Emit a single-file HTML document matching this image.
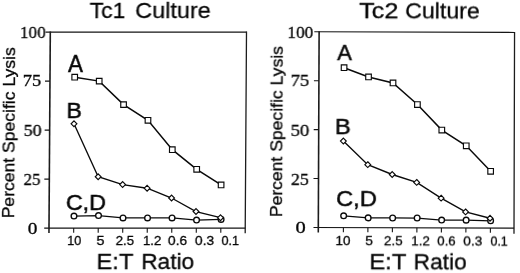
<!DOCTYPE html>
<html><head><meta charset="utf-8"><title>Figure</title>
<style>
html,body{margin:0;padding:0;background:#fff;}
body{width:520px;height:273px;overflow:hidden;}
svg{display:block;}
text{fill:#050505;}
.sans{font-family:"Liberation Sans",sans-serif;}
.serif{font-family:"Liberation Serif",serif;}
</style></head><body>
<svg width="520" height="273" viewBox="0 0 520 273">
<rect width="520" height="273" fill="#fff"/>
<g transform="matrix(1,0.00000,-0.00663,1,1.512,-0.000)">
<path d="M44.2,228.1H245.4M44.2,32.1H245.4" stroke="#151515" stroke-width="1.1" fill="none"/>
<path d="M49.0,31.6V233.1" stroke="#1c1c1c" stroke-width="1.6" fill="none"/>
<path d="M44.0,179.10H49.0M44.0,130.10H49.0M44.0,81.10H49.0M73.70,228.1V232.7M98.22,228.1V232.7M122.74,228.1V232.7M147.26,228.1V232.7M171.78,228.1V232.7M196.30,228.1V232.7M220.82,228.1V232.7" stroke="#151515" stroke-width="1.1" fill="none"/>
<polyline points="73.70,77.18 98.22,81.10 122.74,104.62 147.26,120.30 171.78,149.70 196.30,169.30 220.82,184.98" stroke="#0a0a0a" stroke-width="1.5" fill="none"/>
<rect x="70.90" y="74.38" width="5.6" height="5.6" fill="#fff" stroke="#0a0a0a" stroke-width="1.15"/>
<rect x="95.42" y="78.30" width="5.6" height="5.6" fill="#fff" stroke="#0a0a0a" stroke-width="1.15"/>
<rect x="119.94" y="101.82" width="5.6" height="5.6" fill="#fff" stroke="#0a0a0a" stroke-width="1.15"/>
<rect x="144.46" y="117.50" width="5.6" height="5.6" fill="#fff" stroke="#0a0a0a" stroke-width="1.15"/>
<rect x="168.98" y="146.90" width="5.6" height="5.6" fill="#fff" stroke="#0a0a0a" stroke-width="1.15"/>
<rect x="193.50" y="166.50" width="5.6" height="5.6" fill="#fff" stroke="#0a0a0a" stroke-width="1.15"/>
<rect x="218.02" y="182.18" width="5.6" height="5.6" fill="#fff" stroke="#0a0a0a" stroke-width="1.15"/>
<polyline points="73.90,216.05 98.42,215.56 122.94,217.91 147.46,217.91 171.98,217.91 196.50,220.06 221.02,219.38" stroke="#0a0a0a" stroke-width="1.3" fill="none"/>
<circle cx="73.90" cy="216.05" r="2.85" fill="#fff" stroke="#0a0a0a" stroke-width="1.35"/>
<circle cx="98.42" cy="215.56" r="2.85" fill="#fff" stroke="#0a0a0a" stroke-width="1.35"/>
<circle cx="122.94" cy="217.91" r="2.85" fill="#fff" stroke="#0a0a0a" stroke-width="1.35"/>
<circle cx="147.46" cy="217.91" r="2.85" fill="#fff" stroke="#0a0a0a" stroke-width="1.35"/>
<circle cx="171.98" cy="217.91" r="2.85" fill="#fff" stroke="#0a0a0a" stroke-width="1.35"/>
<circle cx="196.50" cy="220.06" r="2.85" fill="#fff" stroke="#0a0a0a" stroke-width="1.35"/>
<circle cx="221.02" cy="219.38" r="2.85" fill="#fff" stroke="#0a0a0a" stroke-width="1.35"/>
<polyline points="73.30,123.82 97.82,176.74 122.34,184.58 146.86,188.21 171.38,198.01 195.90,211.53 220.42,217.70" stroke="#0a0a0a" stroke-width="1.35" fill="none"/>
<path d="M73.30,120.92L76.20,123.82L73.30,126.72L70.40,123.82Z" fill="#fff" stroke="#0a0a0a" stroke-width="1.15"/>
<path d="M97.82,173.84L100.72,176.74L97.82,179.64L94.92,176.74Z" fill="#fff" stroke="#0a0a0a" stroke-width="1.15"/>
<path d="M122.34,181.68L125.24,184.58L122.34,187.48L119.44,184.58Z" fill="#fff" stroke="#0a0a0a" stroke-width="1.15"/>
<path d="M146.86,185.31L149.76,188.21L146.86,191.11L143.96,188.21Z" fill="#fff" stroke="#0a0a0a" stroke-width="1.15"/>
<path d="M171.38,195.11L174.28,198.01L171.38,200.91L168.48,198.01Z" fill="#fff" stroke="#0a0a0a" stroke-width="1.15"/>
<path d="M195.90,208.63L198.80,211.53L195.90,214.43L193.00,211.53Z" fill="#fff" stroke="#0a0a0a" stroke-width="1.15"/>
<path d="M220.42,214.80L223.32,217.70L220.42,220.60L217.52,217.70Z" fill="#fff" stroke="#0a0a0a" stroke-width="1.15"/>
<g opacity="0.999">
<text transform="translate(88.30,18.20) scale(1.0079,1)" class="sans" font-size="22.7" stroke="#050505" stroke-width="0.3">Tc1</text>
<text transform="translate(133.74,18.20) scale(1.0331,1)" class="sans" font-size="22.7" stroke="#050505" stroke-width="0.3">Culture</text>
<text transform="translate(96.83,269.30) scale(1.0460,1)" class="sans" font-size="22.6" stroke="#050505" stroke-width="0.3">E:T</text>
<text transform="translate(141.52,269.30) scale(1.0026,1)" class="sans" font-size="22.6" stroke="#050505" stroke-width="0.3">Ratio</text>
<text transform="translate(14.04,218.34) rotate(-90) scale(1.0159,1)" class="sans" font-size="17.3" stroke="#050505" stroke-width="0.3">Percent Specific Lysis</text>
<text transform="translate(18.86,37.90) scale(0.9615,1)" class="serif" font-size="17.7" stroke="#050505" stroke-width="0.32">100</text>
<text transform="translate(21.86,86.40) scale(1.0467,1)" class="serif" font-size="17.7" stroke="#050505" stroke-width="0.32">75</text>
<text transform="translate(22.94,135.70) scale(1.0187,1)" class="serif" font-size="17.7" stroke="#050505" stroke-width="0.32">50</text>
<text transform="translate(23.29,184.70) scale(0.9539,1)" class="serif" font-size="17.7" stroke="#050505" stroke-width="0.32">25</text>
<text transform="translate(27.70,233.90) scale(1.0926,1)" class="serif" font-size="17.7" stroke="#050505" stroke-width="0.32">0</text>
<text transform="translate(67.14,244.90) scale(1.0020,1)" class="sans" font-size="12.8" stroke="#050505" stroke-width="0.3">10</text>
<text transform="translate(96.43,244.90) scale(1.1349,1)" class="sans" font-size="12.8" stroke="#050505" stroke-width="0.3">5</text>
<text transform="translate(115.65,244.90) scale(1.0405,1)" class="sans" font-size="12.8" stroke="#050505" stroke-width="0.3">2.5</text>
<text transform="translate(142.89,244.90) scale(1.0507,1)" class="sans" font-size="12.8" stroke="#050505" stroke-width="0.3">1.2</text>
<text transform="translate(168.07,244.90) scale(1.0811,1)" class="sans" font-size="12.8" stroke="#050505" stroke-width="0.3">0.6</text>
<text transform="translate(194.97,244.90) scale(1.0811,1)" class="sans" font-size="12.8" stroke="#050505" stroke-width="0.3">0.3</text>
<text transform="translate(221.41,244.90) scale(1.0013,1)" class="sans" font-size="12.8" stroke="#050505" stroke-width="0.3">0.1</text>
<text transform="translate(67.12,71.50) scale(0.9379,1)" class="sans" font-size="23.8" stroke="#050505" stroke-width="0.5">A</text>
<text transform="translate(65.78,117.70) scale(1.0211,1)" class="sans" font-size="22.6" stroke="#050505" stroke-width="0.5">B</text>
<text transform="translate(65.71,210.40) scale(1.0347,1)" class="sans" font-size="22.6" stroke="#050505" stroke-width="0.5">C,D</text>
</g>
</g>
<path d="M246.5,31.5L245.2,233.2M514.55,32.1L514.0,233.8" stroke="#1c1c1c" stroke-width="1.3" fill="none"/>
<g transform="matrix(1,0.00320,-0.00420,1,0.955,-1.019)">
<path d="M313.5,227.5H514.1M313.5,31.8H514.1" stroke="#151515" stroke-width="1.1" fill="none"/>
<path d="M318.3,31.3V232.5" stroke="#1c1c1c" stroke-width="1.6" fill="none"/>
<path d="M313.3,178.57H318.3M313.3,129.65H318.3M313.3,80.72H318.3M343.40,227.5V232.1M367.90,227.5V232.1M392.40,227.5V232.1M416.90,227.5V232.1M441.40,227.5V232.1M465.90,227.5V232.1M490.40,227.5V232.1" stroke="#151515" stroke-width="1.1" fill="none"/>
<polyline points="343.40,67.61 367.90,76.81 392.40,82.68 416.90,104.21 441.40,129.65 465.90,145.31 490.40,170.75" stroke="#0a0a0a" stroke-width="1.5" fill="none"/>
<rect x="340.60" y="64.81" width="5.6" height="5.6" fill="#fff" stroke="#0a0a0a" stroke-width="1.15"/>
<rect x="365.10" y="74.01" width="5.6" height="5.6" fill="#fff" stroke="#0a0a0a" stroke-width="1.15"/>
<rect x="389.60" y="79.88" width="5.6" height="5.6" fill="#fff" stroke="#0a0a0a" stroke-width="1.15"/>
<rect x="414.10" y="101.41" width="5.6" height="5.6" fill="#fff" stroke="#0a0a0a" stroke-width="1.15"/>
<rect x="438.60" y="126.85" width="5.6" height="5.6" fill="#fff" stroke="#0a0a0a" stroke-width="1.15"/>
<rect x="463.10" y="142.51" width="5.6" height="5.6" fill="#fff" stroke="#0a0a0a" stroke-width="1.15"/>
<rect x="487.60" y="167.95" width="5.6" height="5.6" fill="#fff" stroke="#0a0a0a" stroke-width="1.15"/>
<polyline points="343.60,215.76 368.10,217.72 392.60,217.72 417.10,217.72 441.60,219.67 466.10,219.67 490.60,220.26" stroke="#0a0a0a" stroke-width="1.3" fill="none"/>
<circle cx="343.60" cy="215.76" r="2.85" fill="#fff" stroke="#0a0a0a" stroke-width="1.35"/>
<circle cx="368.10" cy="217.72" r="2.85" fill="#fff" stroke="#0a0a0a" stroke-width="1.35"/>
<circle cx="392.60" cy="217.72" r="2.85" fill="#fff" stroke="#0a0a0a" stroke-width="1.35"/>
<circle cx="417.10" cy="217.72" r="2.85" fill="#fff" stroke="#0a0a0a" stroke-width="1.35"/>
<circle cx="441.60" cy="219.67" r="2.85" fill="#fff" stroke="#0a0a0a" stroke-width="1.35"/>
<circle cx="466.10" cy="219.67" r="2.85" fill="#fff" stroke="#0a0a0a" stroke-width="1.35"/>
<circle cx="490.60" cy="220.26" r="2.85" fill="#fff" stroke="#0a0a0a" stroke-width="1.35"/>
<polyline points="343.00,140.99 367.50,164.48 392.00,174.26 416.50,182.09 441.00,197.75 465.50,211.44 490.00,217.71" stroke="#0a0a0a" stroke-width="1.35" fill="none"/>
<path d="M343.00,138.09L345.90,140.99L343.00,143.89L340.10,140.99Z" fill="#fff" stroke="#0a0a0a" stroke-width="1.15"/>
<path d="M367.50,161.58L370.40,164.48L367.50,167.38L364.60,164.48Z" fill="#fff" stroke="#0a0a0a" stroke-width="1.15"/>
<path d="M392.00,171.36L394.90,174.26L392.00,177.16L389.10,174.26Z" fill="#fff" stroke="#0a0a0a" stroke-width="1.15"/>
<path d="M416.50,179.19L419.40,182.09L416.50,184.99L413.60,182.09Z" fill="#fff" stroke="#0a0a0a" stroke-width="1.15"/>
<path d="M441.00,194.84L443.90,197.75L441.00,200.65L438.10,197.75Z" fill="#fff" stroke="#0a0a0a" stroke-width="1.15"/>
<path d="M465.50,208.54L468.40,211.44L465.50,214.34L462.60,211.44Z" fill="#fff" stroke="#0a0a0a" stroke-width="1.15"/>
<path d="M490.00,214.81L492.90,217.71L490.00,220.61L487.10,217.71Z" fill="#fff" stroke="#0a0a0a" stroke-width="1.15"/>
<g opacity="0.999">
<text transform="translate(358.17,18.27) scale(1.1132,1)" class="sans" font-size="22.7" stroke="#050505" stroke-width="0.3">Tc2</text>
<text transform="translate(404.26,18.12) scale(1.0190,1)" class="sans" font-size="22.7" stroke="#050505" stroke-width="0.3">Culture</text>
<text transform="translate(369.42,269.14) scale(1.0551,1)" class="sans" font-size="22.6" stroke="#050505" stroke-width="0.3">E:T</text>
<text transform="translate(413.81,268.99) scale(1.0066,1)" class="sans" font-size="22.6" stroke="#050505" stroke-width="0.3">Ratio</text>
<text transform="translate(282.09,217.26) rotate(-90) scale(1.0159,1)" class="sans" font-size="17.3" stroke="#050505" stroke-width="0.3">Percent Specific Lysis</text>
<text transform="translate(286.50,37.80) scale(0.9779,1)" class="serif" font-size="17.7" stroke="#050505" stroke-width="0.32">100</text>
<text transform="translate(289.89,86.39) scale(1.0593,1)" class="serif" font-size="17.7" stroke="#050505" stroke-width="0.32">75</text>
<text transform="translate(290.22,135.69) scale(1.0624,1)" class="serif" font-size="17.7" stroke="#050505" stroke-width="0.32">50</text>
<text transform="translate(290.75,184.59) scale(1.0093,1)" class="serif" font-size="17.7" stroke="#050505" stroke-width="0.32">25</text>
<text transform="translate(295.55,233.47) scale(1.1593,1)" class="serif" font-size="17.7" stroke="#050505" stroke-width="0.32">0</text>
<text transform="translate(335.55,245.34) scale(1.0568,1)" class="sans" font-size="12.8" stroke="#050505" stroke-width="0.3">10</text>
<text transform="translate(365.22,245.25) scale(1.0855,1)" class="sans" font-size="12.8" stroke="#050505" stroke-width="0.3">5</text>
<text transform="translate(384.00,245.19) scale(1.0465,1)" class="sans" font-size="12.8" stroke="#050505" stroke-width="0.3">2.5</text>
<text transform="translate(411.36,245.10) scale(1.0446,1)" class="sans" font-size="12.8" stroke="#050505" stroke-width="0.3">1.2</text>
<text transform="translate(437.25,245.02) scale(1.0393,1)" class="sans" font-size="12.8" stroke="#050505" stroke-width="0.3">0.6</text>
<text transform="translate(463.34,244.94) scale(1.0751,1)" class="sans" font-size="12.8" stroke="#050505" stroke-width="0.3">0.3</text>
<text transform="translate(490.38,244.85) scale(0.9833,1)" class="sans" font-size="12.8" stroke="#050505" stroke-width="0.3">0.1</text>
<text transform="translate(336.55,60.34) scale(0.9744,1)" class="sans" font-size="22.6" stroke="#050505" stroke-width="0.5">A</text>
<text transform="translate(334.46,134.45) scale(1.1083,1)" class="sans" font-size="21.5" stroke="#050505" stroke-width="0.5">B</text>
<text transform="translate(336.02,205.74) scale(1.0346,1)" class="sans" font-size="22.9" stroke="#050505" stroke-width="0.5">C,D</text>
</g>
</g>
</svg>
</body></html>
